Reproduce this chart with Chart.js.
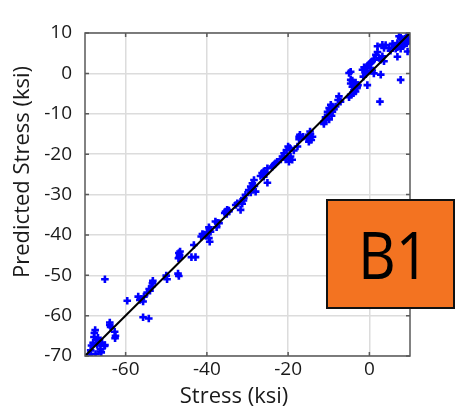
<!DOCTYPE html>
<html>
<head>
<meta charset="utf-8">
<script src="https://cdn.jsdelivr.net/npm/chart.js@4.4.1/dist/chart.umd.min.js"></script>
<style>
  html, body { margin: 0; padding: 0; background: #fff; }
  .grafico-container { position: relative; width: 456px; height: 409px; }
  .etiqueta {
    position: absolute; left: 326px; top: 199px;
    width: 125px; height: 106px;
    background: #f37321; border: 2px solid #111;
    display: flex; align-items: center; justify-content: center;
    font-family: "Open Sans", sans-serif; font-size: 65px; color: #000;
  }
  .etiqueta span { display: inline-block; transform: scaleX(0.9); margin-left: 6px; }
</style>
</head>
<body>
<div class="grafico-container">
  <canvas id="grafico" width="456" height="409"></canvas>
  <div class="etiqueta"><span>B1</span></div>
</div>
<script>
/*************  dados  ****************/
// tensao medida (eixo x) e tensao prevista (eixo y), em ksi
const stressMedido = [
  -69.0, -68.6, -68.6, -67.4, -66.2, -66.0, -66.2, -65.2, -65.1, -66.4,
  -65.8, -66.6, -68.0, -67.2, -67.8, -67.7, -67.5, -67.0, -66.8, -68.4,
  -63.9, -63.9, -63.7, -62.7, -62.5, -62.6, -65.1, -59.6,
  -56.9, -56.5, -55.7, -55.5, -56.2, -54.7, -54.2, -53.6, -53.4, -53.3, -54.0,
  -55.7, -54.3, -50.0, -49.8, -47.1, -46.9,
  -46.9, -46.7, -46.8, -47.0, -46.6, -43.8, -42.8, -43.2,
  -41.4, -41.1, -40.3, -39.9, -39.5, -39.3, -39.1, -39.5, -40.6, -39.4,
  -37.9, -37.4, -37.0, -37.6,
  -35.6, -35.0, -35.4, -34.6, -35.1, -34.6,
  -32.9, -32.5, -31.7, -31.0, -30.9, -30.5, -31.3, -31.7,
  -29.7, -29.2, -28.0, -28.6, -28.3, -29.2, -28.8, -28.4,
  -26.8, -26.0, -25.1, -25.5, -26.4, -26.0, -25.1,
  -23.9, -23.5, -23.1, -22.7,
  -21.8, -20.6, -21.4, -21.0, -20.4, -20.0, -19.4, -19.8, -19.0, -20.1,
  -19.6, -18.6, -17.7, -17.3, -17.1, -16.3, -17.3,
  -15.3, -14.9, -14.6, -14.3, -14.0, -14.9, -14.5,
  -11.2, -10.8, -10.8, -9.9, -10.3, -9.7, -9.3, -10.3, -8.7, -9.9, -9.1, -9.5, -9.1, -11.2,
  -8.3, -7.1, -7.7, -7.5,
  -5.0, -4.6, -3.9, -3.4, -3.8, -3.1, -4.2, -2.8, -4.6, -3.0, -3.4, -4.2, -3.9, -4.6,
  -4.6, -5.0, -0.5,
  -1.7, -1.3, -0.9, -0.5, -0.1, 0.3, 0.3, 0.7, 1.1, -1.5, -0.9, 0.7, 1.1,
  2.4, 2.8, 3.2, 3.6, 1.6, 2.0, 2.0, 3.2, 3.6, 4.0,
  2.8, 2.6, 7.7, 6.9, 9.4,
  4.8, 5.2, 5.7, 6.1, 6.5, 6.9, 7.3, 7.7, 8.1, 6.9,
  7.3, 7.7, 8.1, 8.5, 8.9, 9.3, 9.8, 9.5, 9.2, 8.5, 9.9, 9.9
]
const stressPrevisto = [
  -69.7, -68.6, -69.5, -69.5, -68.9, -69.1, -68.3, -67.5, -67.3, -66.8,
  -66.7, -66.4, -66.7, -66.0, -65.3, -64.3, -63.6, -67.2, -65.5, -67.4,
  -61.7, -62.3, -62.8, -64.0, -65.0, -65.6, -51.0, -56.3,
  -55.3, -56.1, -56.5, -55.3, -55.9, -54.3, -53.4, -52.8, -52.0, -51.4, -53.8,
  -60.4, -60.7, -50.1, -51.0, -49.6, -50.2,
  -44.5, -45.0, -45.5, -45.8, -44.1, -45.5, -45.5, -42.5,
  -40.4, -39.8, -40.2, -39.4, -40.8, -41.7, -39.2, -38.1, -39.9, -38.6,
  -36.7, -37.0, -37.1, -38.1,
  -34.6, -33.8, -34.2, -34.2, -34.8, -34.0,
  -32.6, -32.2, -31.8, -31.5, -30.9, -30.1, -32.3, -33.8,
  -28.9, -29.5, -29.3, -28.7, -27.9, -28.0, -27.2, -26.4,
  -25.4, -25.6, -27.1, -24.7, -24.7, -24.3, -23.5,
  -23.1, -22.7, -22.3, -21.9,
  -21.3, -21.3, -20.6, -19.8, -19.0, -18.1, -20.6, -21.9, -21.4, -20.6,
  -18.5, -19.1, -18.1, -16.3, -15.2, -15.7, -15.7,
  -16.1, -15.2, -14.4, -16.5, -15.7, -16.9, -15.0,
  -12.0, -11.5, -10.9, -11.4, -10.3, -9.9, -10.5, -9.5, -8.9, -8.6, -8.2, -7.8, -9.5, -12.5,
  -8.2, -7.0, -6.6, -5.7,
  -5.9, -5.3, -4.9, -4.5, -4.1, -3.7, -3.3, -2.9, -2.5, -3.4, -2.3, -1.8, -2.4, -1.6,
  0.4, 0.1, -2.9,
  0.9, 1.5, 0.5, 1.8, 2.2, 2.6, 1.3, 3.0, 3.4, -0.8, 0.0, 0.7, 0.0,
  3.8, 3.4, 4.2, 3.0, 4.6, 5.3, 6.7, 7.1, 6.3, 7.0,
  -0.3, -7.0, -1.6, 4.1, 5.4,
  6.3, 5.6, 7.3, 6.7, 6.1, 6.5, 7.0, 6.1, 6.7, 7.5,
  9.2, 8.8, 8.3, 8.1, 8.6, 9.2, 9.6, 7.9, 7.5, 7.1, 8.8, 9.8
]

// reta y = x
const linhaRef = [-70, 10]

// marcas dos eixos
const ticksX = [-60, -40, -20, 0]
const ticksY = [10, 0, -10, -20, -30, -40, -50, -60, -70]

const fonte = '"Open Sans", sans-serif'
const corTexto = '#1a1a1a'

/*************  plugins  ****************/
// moldura do grafico com tracinhos para dentro
const moldura = {
  id: 'moldura',
  afterDraw(chart) {
    const {ctx, chartArea: a, scales} = chart
    ctx.save()
    ctx.strokeStyle = '#5a5a5a'
    ctx.lineWidth = 1.5
    ctx.strokeRect(a.left, a.top, a.right - a.left, a.bottom - a.top)
    ctx.beginPath()
    ticksX.forEach(v => {
      const px = scales.x.getPixelForValue(v)
      ctx.moveTo(px, a.bottom); ctx.lineTo(px, a.bottom - 4)
      ctx.moveTo(px, a.top); ctx.lineTo(px, a.top + 4)
    })
    ticksY.forEach(v => {
      const py = scales.y.getPixelForValue(v)
      ctx.moveTo(a.left, py); ctx.lineTo(a.left + 4, py)
      ctx.moveTo(a.right, py); ctx.lineTo(a.right - 4, py)
    })
    ctx.stroke()
    ctx.restore()
  }
}

// titulos dos eixos
const titulosEixos = {
  id: 'titulosEixos',
  afterDraw(chart) {
    const {ctx, chartArea: a} = chart
    ctx.save()
    ctx.font = '22px ' + fonte
    ctx.fillStyle = corTexto
    ctx.textAlign = 'center'
    ctx.textBaseline = 'alphabetic'
    ctx.fillText('Stress (ksi)', a.left + 149, a.bottom + 47)
    ctx.translate(a.left - 56.5, a.top + 139)
    ctx.rotate(-Math.PI / 2)
    ctx.fillText('Predicted Stress (ksi)', 0, 0)
    ctx.restore()
  }
}

/*************  grafico  ****************/
const pontos = stressMedido.map((x, i) => ({x: x, y: stressPrevisto[i]}))

new Chart(document.getElementById('grafico'), {
  type: 'scatter',
  data: {
    datasets: [
      {
        data: linhaRef.map(v => ({x: v, y: v})),
        showLine: true,
        borderColor: '#000',
        borderWidth: 2,
        pointRadius: 0,
        order: 0
      },
      {
        data: pontos,
        pointStyle: 'cross',
        pointRadius: 3.8,
        borderWidth: 2.6,
        borderColor: '#0000ff',
        backgroundColor: '#0000ff',
        order: 1
      }
    ]
  },
  options: {
    responsive: false,
    animation: false,
    layout: { padding: { top: 33, right: 46, left: 0, bottom: 0 } },
    plugins: { legend: { display: false }, tooltip: { enabled: false } },
    scales: {
      x: {
        min: -70, max: 10,
        afterBuildTicks: s => { s.ticks = ticksX.map(v => ({value: v})) },
        afterFit: s => { s.height = 53 },
        grid: { color: '#dcdcdc', lineWidth: 1.5, drawTicks: false },
        border: { display: false },
        ticks: { padding: 2, color: corTexto, font: { family: fonte, size: 19 }, maxRotation: 0 }
      },
      y: {
        min: -70, max: 10,
        afterBuildTicks: s => { s.ticks = ticksY.map(v => ({value: v})) },
        afterFit: s => { s.width = 85 },
        grid: { color: '#dcdcdc', lineWidth: 1.5, drawTicks: false },
        border: { display: false },
        ticks: { padding: 13, color: corTexto, font: { family: fonte, size: 19 } }
      }
    }
  },
  plugins: [moldura, titulosEixos]
})
</script>
</body>
</html>
